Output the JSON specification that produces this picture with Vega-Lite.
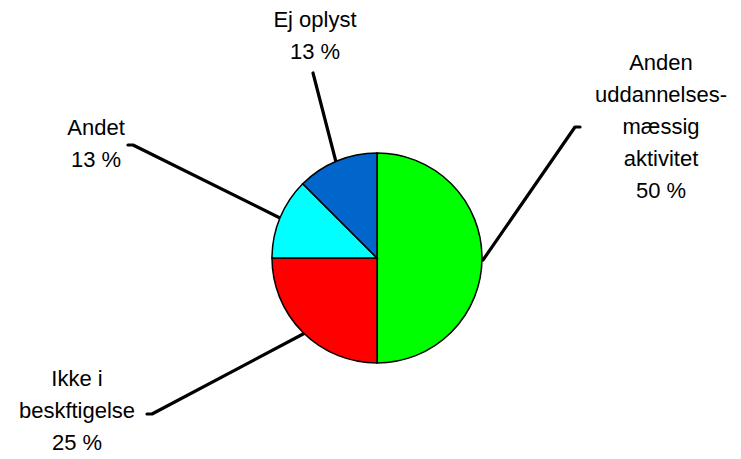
{
  "$schema": "https://vega.github.io/schema/vega-lite/v6.json",
  "width": 741,
  "height": 459,
  "autosize": {"type": "fit", "contains": "padding"},
  "padding": 0,
  "background": "white",
  "config": {"view": {"stroke": null}},
  "datasets": {
    "slices": [
      {"category": "Anden uddannelsesmæssig aktivitet", "share": 50, "order": 1},
      {"category": "Ikke i beskftigelse", "share": 25, "order": 2},
      {"category": "Andet", "share": 12.5, "order": 3},
      {"category": "Ej oplyst", "share": 12.5, "order": 4}
    ],
    "leaders": [
      {"category": "Ej oplyst", "step": 1, "x": -64, "y": 185},
      {"category": "Ej oplyst", "step": 2, "x": -41, "y": 96},
      {"category": "Anden", "step": 1, "x": 203, "y": 131},
      {"category": "Anden", "step": 2, "x": 198, "y": 131},
      {"category": "Anden", "step": 3, "x": 106, "y": -2},
      {"category": "Andet", "step": 1, "x": -249, "y": 113},
      {"category": "Andet", "step": 2, "x": -244, "y": 113},
      {"category": "Andet", "step": 3, "x": -97, "y": 40},
      {"category": "Ikke", "step": 1, "x": -230, "y": -156},
      {"category": "Ikke", "step": 2, "x": -225, "y": -156},
      {"category": "Ikke", "step": 3, "x": -72, "y": -75}
    ],
    "labels": [
      {"text": "Ej oplyst\n13 %", "x": -62, "y": 231},
      {"text": "Anden\nuddannelses-\nmæssig\naktivitet\n50 %", "x": 284, "y": 188},
      {"text": "Andet\n13 %", "x": -281, "y": 123},
      {"text": "Ikke i\nbeskftigelse\n25 %", "x": -300, "y": -128}
    ]
  },
  "resolve": {"scale": {"x": "shared", "y": "shared"}},
  "layer": [
    {
      "data": {"name": "leaders"},
      "mark": {"type": "line", "color": "black", "strokeWidth": 3.2, "strokeCap": "round", "strokeJoin": "round"},
      "encoding": {
        "x": {"field": "x", "type": "quantitative", "scale": {"domain": [-377, 364], "nice": false, "zero": false}, "axis": null},
        "y": {"field": "y", "type": "quantitative", "scale": {"domain": [-201, 258], "nice": false, "zero": false}, "axis": null},
        "detail": {"field": "category"},
        "order": {"field": "step"}
      }
    },
    {
      "data": {"name": "slices"},
      "mark": {"type": "arc", "outerRadius": 105, "stroke": "black", "strokeWidth": 1.5},
      "encoding": {
        "x": {"datum": 0, "type": "quantitative"},
        "y": {"datum": 0, "type": "quantitative"},
        "theta": {"field": "share", "type": "quantitative", "stack": true},
        "order": {"field": "order"},
        "color": {
          "field": "category",
          "type": "nominal",
          "scale": {
            "domain": ["Anden uddannelsesmæssig aktivitet", "Ikke i beskftigelse", "Andet", "Ej oplyst"],
            "range": ["#00ff00", "#ff0000", "#00ffff", "#0066cc"]
          },
          "legend": null
        }
      }
    },
    {
      "data": {"name": "labels"},
      "mark": {"type": "text", "align": "center", "baseline": "alphabetic", "lineBreak": "\n", "lineHeight": 32, "font": "Liberation Sans", "fontSize": 22, "color": "black"},
      "encoding": {
        "x": {"field": "x", "type": "quantitative"},
        "y": {"field": "y", "type": "quantitative"},
        "text": {"field": "text"}
      }
    }
  ]
}
